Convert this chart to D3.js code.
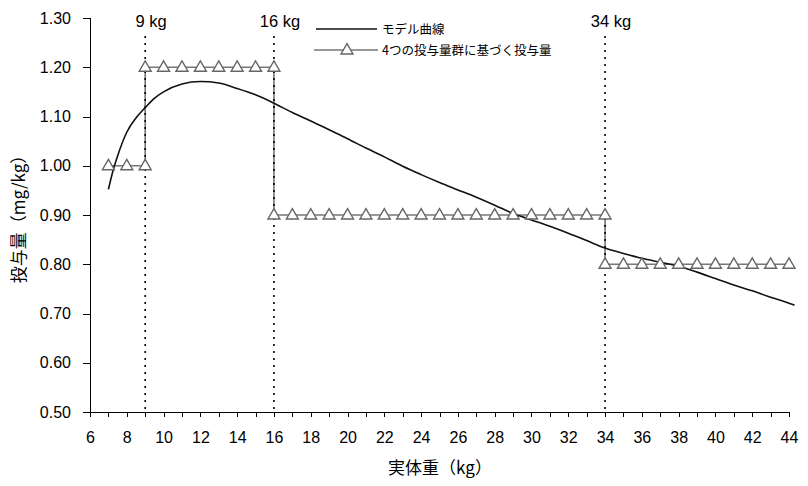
<!DOCTYPE html>
<html lang="ja">
<head>
<meta charset="utf-8">
<title>実体重と投与量</title>
<style>
  body { margin: 0; background: #fff; }
  svg text { font-family: "Liberation Sans", Arial, sans-serif; fill: #000; }
  .jp { font-family: "Noto Sans CJK JP", sans-serif; }
  .axis path, .axis line { stroke: #000; shape-rendering: crispEdges; }
</style>
</head>
<body>
<script src="https://cdn.jsdelivr.net/npm/d3@7/dist/d3.min.js"></script>
<script>
// model curve (kg, mg/kg)
var curveKg   = [7, 7.25, 7.5, 8, 8.5, 9, 9.5, 10, 11, 12, 13, 14, 15, 16, 17, 18, 19, 20, 21, 22, 23, 24, 25, 26, 27, 28, 29, 30, 31, 32, 33, 34, 35, 36, 37, 38, 39, 40, 41, 42, 43, 44, 44.3];
var curveDose = [0.952, 0.99, 1.02, 1.068, 1.097, 1.118, 1.137, 1.150, 1.166, 1.171, 1.168, 1.157, 1.144, 1.127, 1.108, 1.091, 1.073, 1.055, 1.036, 1.018, 0.999, 0.982, 0.966, 0.951, 0.936, 0.920, 0.903, 0.890, 0.877, 0.863, 0.848, 0.833, 0.822, 0.812, 0.804, 0.796, 0.784, 0.771, 0.758, 0.746, 0.733, 0.721, 0.717];

// dose by the four dose groups
var stepKg   = [7, 8, 9, 9, 10, 11, 12, 13, 14, 15, 16, 16, 17, 18, 19, 20, 21, 22, 23, 24, 25, 26, 27, 28, 29, 30, 31, 32, 33, 34, 34, 35, 36, 37, 38, 39, 40, 41, 42, 43, 44];
var stepDose = [1.0, 1.0, 1.0, 1.2, 1.2, 1.2, 1.2, 1.2, 1.2, 1.2, 1.2, 0.9, 0.9, 0.9, 0.9, 0.9, 0.9, 0.9, 0.9, 0.9, 0.9, 0.9, 0.9, 0.9, 0.9, 0.9, 0.9, 0.9, 0.9, 0.9, 0.8, 0.8, 0.8, 0.8, 0.8, 0.8, 0.8, 0.8, 0.8, 0.8, 0.8];

var cutKg     = [9, 16, 34];
var cutLabels = ["9 kg", "16 kg", "34 kg"];
var xTicks    = [6, 7, 8, 9, 10, 11, 12, 13, 14, 15, 16, 17, 18, 19, 20, 21, 22, 23, 24, 25, 26, 27, 28, 29, 30, 31, 32, 33, 34, 35, 36, 37, 38, 39, 40, 41, 42, 43, 44];
var yTicks    = [0.5, 0.6, 0.7, 0.8, 0.9, 1.0, 1.1, 1.2, 1.3];
var legendNames = ["モデル曲線", "4つの投与量群に基づく投与量"];

var W = 808, H = 486;
var margin = {top: 18, right: 19, bottom: 74, left: 90},
    width = W - margin.left - margin.right,
    height = H - margin.top - margin.bottom;

var x = d3.scaleLinear().domain([6, 44]).range([0, width]);
var y = d3.scaleLinear().domain([0.5, 1.3]).range([height, 0]);

var svg = d3.select("body").append("svg")
    .attr("width", W)
    .attr("height", H);

var g = svg.append("g")
    .attr("transform", "translate(" + margin.left + "," + margin.top + ")");

// axes
var xAxis = d3.axisBottom(x).tickValues(xTicks).tickSize(5).tickPadding(15)
    .tickFormat(function(d) { return d % 2 === 0 ? d : ""; });
g.append("g")
    .attr("class", "axis")
    .attr("transform", "translate(0," + height + ")")
    .call(xAxis)
    .call(function(s) { s.select(".domain").attr("d", "M0.5,0.5H" + (width + 0.5)); })
    .selectAll("text").style("font-size", "16px");

var yAxis = d3.axisLeft(y).tickValues(yTicks).tickSize(7).tickPadding(12)
    .tickFormat(d3.format(".2f"));
g.append("g")
    .attr("class", "axis")
    .call(yAxis)
    .call(function(s) { s.select(".domain").attr("d", "M0.5," + height + "V" + y(1.3)); })
    .selectAll("text").style("font-size", "16px");

// step series
var stepPts = stepKg.map(function(k, i) { return [k, stepDose[i]]; });
var line = d3.line()
    .x(function(d) { return x(d[0]); })
    .y(function(d) { return y(d[1]); });

g.append("path")
    .datum(stepPts)
    .attr("fill", "none")
    .attr("stroke", "#777")
    .attr("stroke-width", 1.6)
    .attr("d", line);

// dotted cut lines (drawn over the grey step)
g.selectAll(".cut")
    .data(cutKg)
  .enter().append("line")
    .attr("class", "cut")
    .attr("x1", function(d) { return x(d); })
    .attr("x2", function(d) { return x(d); })
    .attr("y1", 18)
    .attr("y2", height)
    .attr("stroke", "#000")
    .attr("stroke-width", 1.6)
    .attr("stroke-dasharray", "2,5");

g.selectAll(".cutLabel")
    .data(cutKg)
  .enter().append("text")
    .attr("class", "cutLabel")
    .attr("x", function(d) { return x(d) + 6; })
    .attr("y", 9)
    .attr("text-anchor", "middle")
    .style("font-size", "16.5px")
    .text(function(d, i) { return cutLabels[i]; });

// model curve
var curvePts = curveKg.map(function(k, i) { return [k, curveDose[i]]; });
g.append("path")
    .datum(curvePts)
    .attr("fill", "none")
    .attr("stroke", "#111")
    .attr("stroke-width", 1.6)
    .attr("d", line.curve(d3.curveMonotoneX));

var tri = d3.symbol().type(d3.symbolTriangle).size(62);
g.selectAll(".marker")
    .data(stepPts)
  .enter().append("path")
    .attr("class", "marker")
    .attr("transform", function(d) { return "translate(" + x(d[0]) + "," + (y(d[1]) + 0.5) + ")"; })
    .attr("d", tri)
    .attr("fill", "#fff")
    .attr("stroke", "#666")
    .attr("stroke-width", 1.4);

// legend
var leg = svg.append("g").attr("transform", "translate(314,29)");
leg.append("line").attr("x1", 2).attr("x2", 63).attr("y1", 0).attr("y2", 0)
    .attr("stroke", "#111").attr("stroke-width", 1.6);
leg.append("line").attr("x1", 0).attr("x2", 64).attr("y1", 21).attr("y2", 21)
    .attr("stroke", "#777").attr("stroke-width", 1.6);
leg.append("path").attr("transform", "translate(33,21.5)").attr("d", tri)
    .attr("fill", "#fff").attr("stroke", "#666").attr("stroke-width", 1.4);
leg.selectAll(".legText")
    .data(legendNames)
  .enter().append("text")
    .attr("class", "jp")
    .attr("x", 68)
    .attr("y", function(d, i) { return i * 21 + 4.5; })
    .style("font-size", "12.5px")
    .text(function(d) { return d; });

// axis titles
svg.append("text")
    .attr("class", "jp")
    .attr("x", 440)
    .attr("y", 474)
    .attr("text-anchor", "middle")
    .style("font-size", "17px")
    .text("実体重（kg）");

svg.append("text")
    .attr("class", "jp")
    .attr("transform", "translate(25,215) rotate(-90)")
    .attr("text-anchor", "middle")
    .style("font-size", "17px")
    .text("投与量（mg/kg）");
</script>
</body>
</html>
